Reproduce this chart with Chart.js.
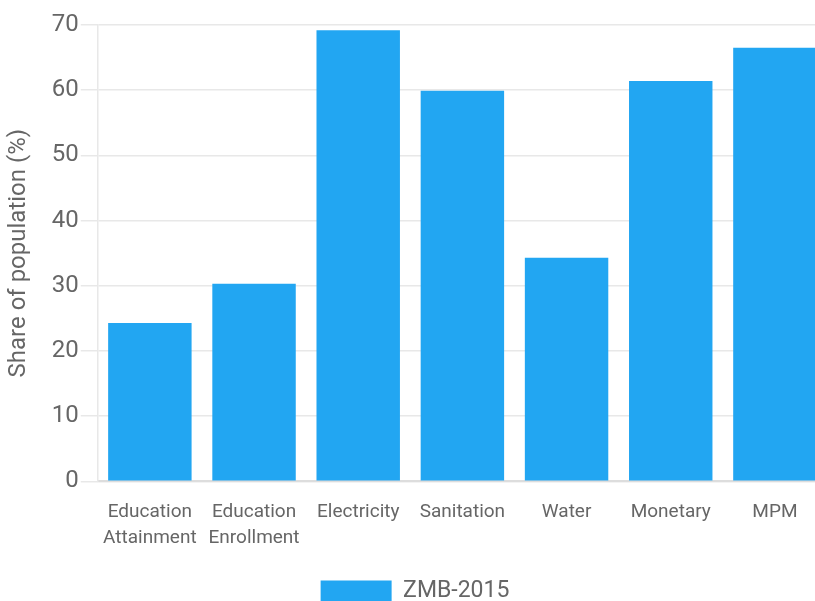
<!DOCTYPE html>
<html>
<head>
<meta charset="utf-8">
<script src="https://cdn.jsdelivr.net/npm/chart.js@4.4.1/dist/chart.umd.min.js"></script>
<style>
  html, body { margin: 0; padding: 0; background: #fff; overflow: hidden; }
  #wrap { width: 830px; height: 613px; position: relative; }
</style>
</head>
<body>
<div id="wrap"><canvas id="c"></canvas></div>
<script>
const categories = [
  ["Education", "Attainment"],
  ["Education", "Enrollment"],
  "Electricity",
  "Sanitation",
  "Water",
  "Monetary",
  "MPM"
];
const seriesName = "ZMB-2015";
const seriesValues = [24.3, 30.3, 69.2, 59.9, 34.3, 61.4, 66.5];
const yTitle = "Share of population (%)";

new Chart(document.getElementById("c"), {
  type: "bar",
  data: {
    labels: categories,
    datasets: [{
      label: seriesName,
      data: seriesValues,
      backgroundColor: "#22a6f2",
      borderWidth: 0,
      barPercentage: 0.9,
      categoryPercentage: 0.89
    }]
  },
  options: {
    responsive: true,
    maintainAspectRatio: false,
    animation: false,
    layout: { padding: { left: 3, right: 3, top: 25, bottom: 0 } },
    plugins: {
      legend: {
        position: "bottom",
        labels: {
          boxWidth: 71,
          boxHeight: 22,
          color: "#666",
          font: { family: "Roboto", size: 23 },
          padding: 19
        }
      },
      tooltip: { enabled: false }
    },
    scales: {
      x: {
        grid: { display: false },
        border: { color: "#dddddd", width: 2 },
        ticks: {
          color: "#666",
          maxRotation: 0,
          autoSkip: false,
          padding: 10,
          font: { family: "Roboto", size: 19, lineHeight: 1.36 }
        }
      },
      y: {
        min: 0,
        max: 70,
        ticks: {
          stepSize: 10,
          color: "#666",
          padding: 2,
          font: { family: "Roboto", size: 24 }
        },
        grid: { color: "#e8e8e8", tickLength: 17, lineWidth: 1.5 },
        border: { color: "#e8e8e8", width: 1.5 },
        title: {
          display: true,
          text: yTitle,
          color: "#666",
          font: { family: "Roboto", size: 24 },
          padding: { top: 2, bottom: 16 }
        }
      }
    }
  }
});
</script>
</body>
</html>
